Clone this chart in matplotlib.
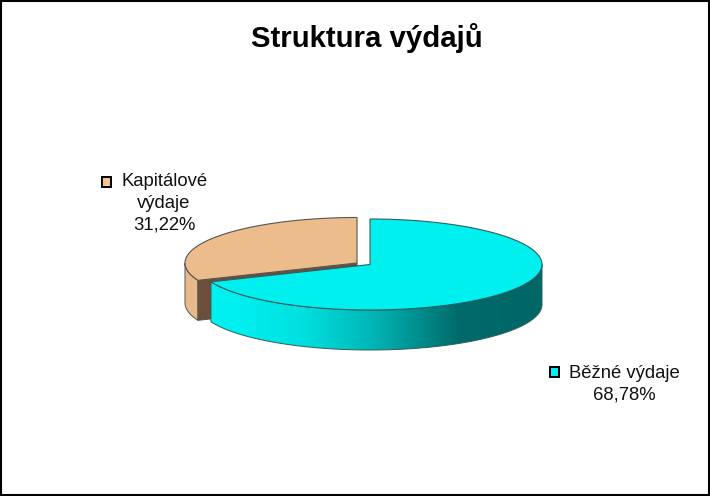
import numpy as np
import matplotlib
matplotlib.use("Agg")
import matplotlib.pyplot as plt
from matplotlib.patches import Polygon, Rectangle
from matplotlib.colors import LinearSegmentedColormap

plt.rcParams['font.family'] = ['Liberation Sans', 'DejaVu Sans']

title = "Struktura výdajů"
categories = ["Běžné výdaje", "Kapitálové\nvýdaje"]
shares = [68.78, 31.22]
label_text = ["68,78%", "31,22%"]
top_colors = ["#00F0F0", "#ECBC8D"]
side_color_tan = "#E8B98A"
cut_color = "#6B4F3A"
edge = "#555555"
edge_cyan = "#2F5F5F"

W, H = 710, 496
fig = plt.figure(figsize=(W / 100, H / 100), dpi=100, facecolor="white")
ax = fig.add_axes([0, 0, 1, 1])
ax.set_xlim(0, W)
ax.set_ylim(H, 0)
ax.axis("off")

RX, RY, DEPTH = 172, 45.5, 40
c_cyan = (370, 264.5)
c_tan = (357, 263)


def arc(center, a0, a1, n=300):
    """Ellipse points for share-based angles, clockwise from 12 o'clock."""
    t = np.radians(np.linspace(a0, a1, n))
    return np.column_stack([center[0] + RX * np.sin(t), center[1] - RY * np.cos(t)])


split = shares[0] / sum(shares) * 360

# --- Capital slice (behind) ---
tan_arc = arc(c_tan, split, 360)
tan_side_arc = arc(c_tan, split, 270)
side = np.vstack([tan_side_arc, tan_side_arc[::-1] + [0, DEPTH]])
ax.add_patch(Polygon(side, closed=True, fc=side_color_tan, ec=edge, lw=0.7, zorder=2))
p0 = tan_arc[0]
cut = np.array([p0, c_tan, (c_tan[0], c_tan[1] + DEPTH), p0 + [0, DEPTH]])
ax.add_patch(Polygon(cut, closed=True, fc=cut_color, ec=edge, lw=0.7, zorder=3))
ax.add_patch(Polygon(np.vstack([tan_arc, c_tan]), closed=True, fc=top_colors[1],
                     ec=edge, lw=0.8, zorder=4))

# --- Current slice (front) ---
cy_arc = arc(c_cyan, 0, split)
front = arc(c_cyan, 90, split)
side_pts = np.vstack([front, front[::-1] + [0, DEPTH]])
side_patch = Polygon(side_pts, closed=True, fc="none", ec=edge_cyan, lw=0.7, zorder=6)
ax.add_patch(side_patch)
cmap = LinearSegmentedColormap.from_list("side", [(0, "#00F0F0"), (0.10, "#00F0F0"),
                                                 (0.30, "#00E0E0"), (0.50, "#00B8B8"),
                                                 (0.76, "#006A6A"), (1, "#006666")])
grad = np.linspace(0, 1, 400)[None, :]
im = ax.imshow(grad, extent=(c_cyan[0] - RX, c_cyan[0] + RX, H, 0), cmap=cmap,
               aspect="auto", zorder=5)
ax.set_xlim(0, W)
ax.set_ylim(H, 0)
im.set_clip_path(side_patch)
ax.add_patch(Polygon(np.vstack([cy_arc, c_cyan]), closed=True, fc=top_colors[0],
                     ec=edge_cyan, lw=0.8, zorder=7))

# --- Texts ---
ax.text(366.5, 38, title, ha="center", va="center", fontsize=21.2, fontweight="bold", color="black")

LABEL = 13.3
ax.text(624, 373, categories[0], ha="center", va="center", fontsize=LABEL, color="#111111")
ax.text(624, 395, label_text[0], ha="center", va="center", fontsize=LABEL, color="#111111")
ax.add_patch(Rectangle((549.5, 367), 9, 10, fc=top_colors[0], ec="black", lw=1.4, zorder=8))

kap1, kap2 = categories[1].split("\n")
ax.text(165, 182, kap1, ha="center", va="center", fontsize=LABEL, color="#111111")
ax.text(164, 204, kap2, ha="center", va="center", fontsize=LABEL, color="#111111")
ax.text(164, 225, label_text[1], ha="center", va="center", fontsize=LABEL, color="#111111")
ax.add_patch(Rectangle((102, 176.5), 9, 10, fc="#F5C596", ec="black", lw=1.4, zorder=8))

# --- Frame ---
ax.add_patch(Rectangle((1, 1), W - 2.5, H - 2.5, fc="none", ec="black", lw=1.5, zorder=10))

fig.savefig("out.png", dpi=100, facecolor="white")
